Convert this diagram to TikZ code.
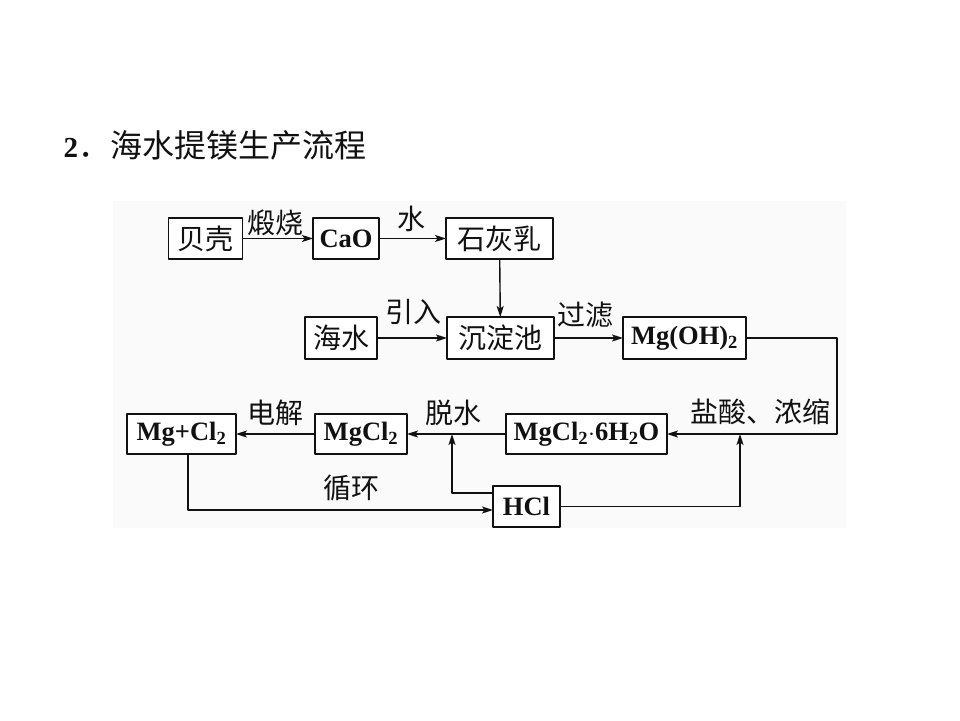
\documentclass[tikz,border=0pt]{standalone}
\usepackage{fontspec}
\setmainfont{Liberation Serif}
\newfontfamily\cjk{Noto Sans CJK SC}
\usepackage{xcolor}
\usepackage{tikz}
\usetikzlibrary{arrows.meta,positioning,calc}
\definecolor{ink}{HTML}{111111}
\definecolor{panel}{HTML}{FAFAFA}
\tikzset{
    every picture/.style={line cap=round,line join=round},
    stagebox/.style={draw=ink,fill=white,line width=1.4pt,
      minimum height=41pt,inner sep=1pt,outer sep=0pt,
      font=\fontsize{28}{30}\selectfont\cjk,text=ink},
    chembox/.style={stagebox,font=\fontsize{26.5}{28}\selectfont\bfseries},
    steplabel/.style={inner sep=0pt,text=ink,
      font=\fontsize{28}{30}\selectfont\cjk},
    flowarrow/.style={-{Stealth[length=11pt,width=7pt,inset=2.5pt]},draw=ink,
      line width=1.4pt}
}
\begin{document}
\begin{tikzpicture}[x=1pt,y=-1pt]
  \useasboundingbox (0,0) rectangle (960,720);
  \fill[panel] (113,201) rectangle (846,528);
  \node[anchor=west,text=ink] (title) at (60,145)
    {\fontsize{29}{31}\selectfont\textbf{2}\fontsize{32}{34}\selectfont\cjk．海水提镁生产流程};
  % first row
  \node[stagebox,minimum width=74pt] (shell) at (205.5,238.5) {贝壳};
  \node[chembox,minimum width=66pt] (cao) at (346,238.5) {CaO};
  \node[stagebox,minimum width=107pt] (lime) at (499.5,238.5) {石灰乳};
  % second row
  \node[stagebox,minimum width=72pt,minimum height=42pt] (sea) at (341,338) {海水};
  \node[stagebox,minimum width=107pt,minimum height=42pt] (tank) at (500.5,338) {沉淀池};
  \node[chembox,minimum width=123pt,minimum height=42pt] (mgoh) at (684.5,338) {Mg(OH)\textsubscript{2}};
  % third row
  \node[chembox,minimum width=161pt,minimum height=40pt] (hydrate) at (586.5,434) {MgCl\textsubscript{2}$\cdot$6H\textsubscript{2}O};
  \node[chembox,minimum width=92pt,minimum height=40pt] (mgcl) at (361,434) {MgCl\textsubscript{2}};
  \node[chembox,minimum width=109pt,minimum height=40pt] (product) at (181.5,434) {Mg+Cl\textsubscript{2}};
  \node[chembox,minimum width=67pt] (hcl) at (526.5,506.5) {HCl};
  % turning points
  \coordinate (bend) at (837,338);
  \coordinate (dehyd) at (452,434);
  \coordinate (acid) at (740,434);
  % connectors
  \draw[flowarrow] (shell) -- (cao);
  \draw[flowarrow] (cao) -- (lime);
  \draw[flowarrow] (lime) -- (tank);
  \draw[flowarrow] (sea) -- (tank);
  \draw[flowarrow] (tank) -- (mgoh);
  \draw[flowarrow] (mgoh.east) -- (bend) |- (hydrate.east);
  \draw[flowarrow] (hydrate) -- (mgcl);
  \draw[flowarrow] (mgcl) -- (product);
  \draw[flowarrow] ([xshift=6.5pt]product.south) |- ([yshift=-3.5pt]hcl.west);
  \draw[flowarrow] ([yshift=13.5pt]hcl.west) -| (dehyd);
  \draw[flowarrow] (hcl.east) -| (acid);
  % step labels
  \node[steplabel] (calcine) at (275,223) {煅烧};
  \node[steplabel] (water) at (411,219) {水};
  \node[steplabel] (intake) at (413,312) {引入};
  \node[steplabel] (filter) at (585,315) {过滤};
  \node[steplabel] (acidconc) at (760,412) {盐酸、浓缩};
  \node[steplabel] (electro) at (275,413) {电解};
  \node[steplabel] (dewater) at (453,413) {脱水};
  \node[steplabel] (recycle) at (351,488) {循环};
\end{tikzpicture}
\end{document}
